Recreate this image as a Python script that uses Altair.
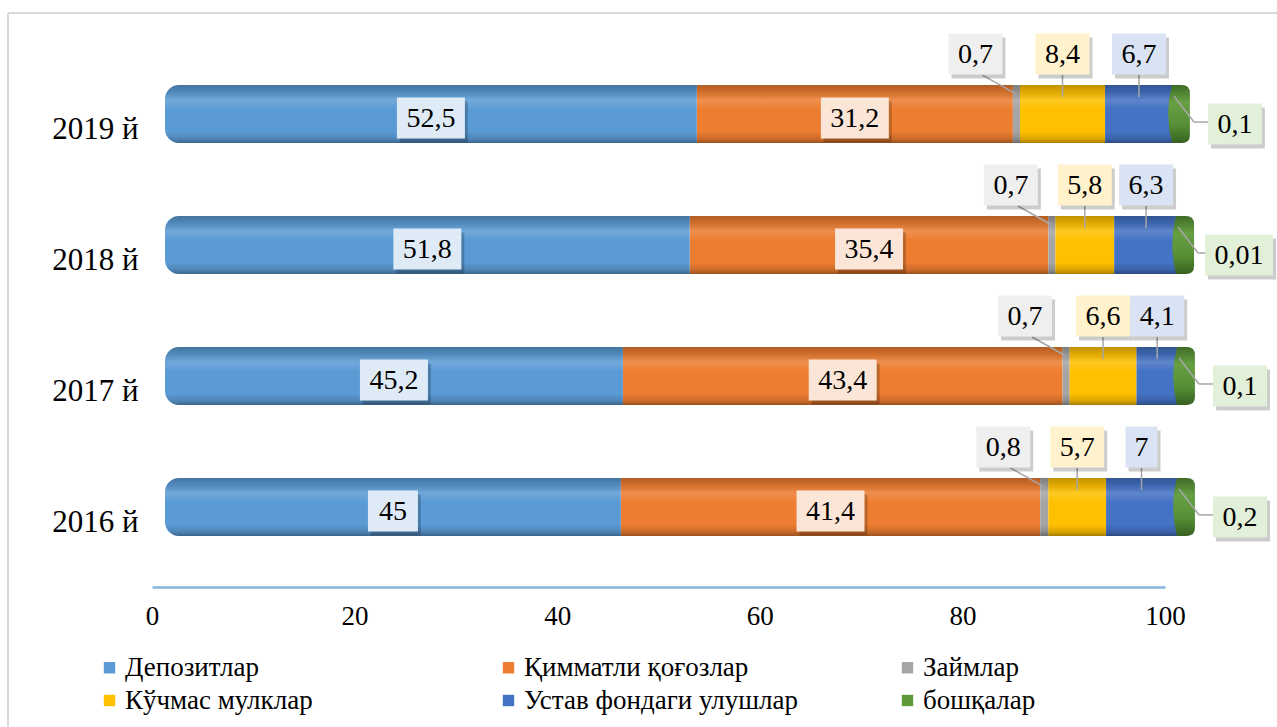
import altair as alt
import pandas as pd

# ---- data ----
years = ["2019 й", "2018 й", "2017 й", "2016 й"]
categories = ["Депозитлар", "Қимматли қоғозлар", "Займлар",
              "Кўчмас мулклар", "Устав фондаги улушлар", "бошқалар"]
deposits = [52.5, 51.8, 45.2, 45]
securities = [31.2, 35.4, 43.4, 41.4]
loans = [0.7, 0.7, 0.7, 0.8]
real_estate = [8.4, 5.8, 6.6, 5.7]
charter = [6.7, 6.3, 4.1, 7]
other = [0.1, 0.01, 0.1, 0.2]
x_ticks = [0, 20, 40, 60, 80, 100]

# ---- styles ----
bar_colors = ["#5B9BD5", "#ED7D31", "#A5A5A5", "#FFC000", "#4472C4", "#5E9A3A"]
box_colors = ["#DEEBF7", "#FBE5D6", "#EFEFEF", "#FFF2CC", "#DAE3F3", "#E2F0D9"]
FONT = "'Liberation Serif', 'Times New Roman', 'DejaVu Serif', serif"
SHIFT = 13          # 3-D depth shift of the bars relative to the axis
W, H = 1013, 553
PAD_L, PAD_T = 152, 34

series = [deposits, securities, loans, real_estate, charter, other]
rows = []
tot_rows = []
for yi, yr in enumerate(years):
    cum = 0.0
    for ci, cat in enumerate(categories):
        v = series[ci][yi]
        lab = f"{v:g}".replace(".", ",")
        rows.append(dict(year=yr, cat=cat, value=v, start=cum, end=cum + v,
                         mid=cum + v / 2, label=lab, nch=str(len(lab))))
        cum += v
    tot_rows.append(dict(year=yr, base=0.0, total=cum))
df = pd.DataFrame(rows)
tot = pd.DataFrame(tot_rows)

xscale = alt.Scale(domain=[0, 100], nice=False, zero=False)
yscale = alt.Scale(domain=years, paddingInner=0.557, paddingOuter=0.39)
xaxis = alt.Axis(values=x_ticks, ticks=False, grid=False, domainColor="#86B3E0",
                 domainWidth=2.5, labelFont=FONT, labelFontSize=27, labelColor="#000",
                 labelPadding=16, labelFlush=False, title=None)
yaxis = alt.Axis(title=None, domain=False, ticks=False, labelFont=FONT,
                 labelFontSize=31, labelColor="#000", labelPadding=14, labelOffset=16)
legend = alt.Legend(orient="none", legendX=-56, legendY=620, columns=3, direction="horizontal",
                    gridAlign="all", columnPadding=96, rowPadding=5, title=None,
                    labelFont=FONT, labelFontSize=27, labelColor="#000", labelLimit=0,
                    labelOffset=2, symbolType="square", symbolSize=130, symbolStrokeWidth=0)
cscale = alt.Scale(domain=categories, range=bar_colors)

X = lambda f: alt.X(f"{f}:Q", scale=xscale, axis=xaxis)
Y = alt.Y("year:N", sort=years, scale=yscale, axis=yaxis)

base = alt.Chart(df)

bars_rest = base.transform_filter(
    alt.FieldOneOfPredicate(field="cat", oneOf=categories[1:])
).mark_bar(xOffset=SHIFT, x2Offset=SHIFT).encode(
    x=X("start"), x2="end:Q", y=Y,
    color=alt.Color("cat:N", scale=cscale, legend=legend, sort=categories))

bars_dep = base.transform_filter(
    alt.FieldEqualPredicate(field="cat", equal=categories[0])
).mark_bar(xOffset=SHIFT, x2Offset=SHIFT, cornerRadiusTopLeft=14,
           cornerRadiusBottomLeft=14).encode(
    x=X("start"), x2="end:Q", y=Y,
    color=alt.Color("cat:N", scale=cscale, legend=legend, sort=categories))

shade = alt.Gradient(gradient="linear", x1=0, x2=0, y1=0, y2=1, stops=[
    alt.GradientStop(offset=0, color="rgba(0,0,0,0.25)"),
    alt.GradientStop(offset=0.12, color="rgba(0,0,0,0.12)"),
    alt.GradientStop(offset=0.26, color="rgba(255,255,255,0.14)"),
    alt.GradientStop(offset=0.42, color="rgba(255,255,255,0)"),
    alt.GradientStop(offset=0.8, color="rgba(0,0,0,0)"),
    alt.GradientStop(offset=0.93, color="rgba(0,0,0,0.15)"),
    alt.GradientStop(offset=1, color="rgba(0,0,0,0.35)"),
])
overlay = alt.Chart(tot).mark_bar(color=shade, xOffset=SHIFT, x2Offset=SHIFT,
                                  cornerRadiusTopLeft=14, cornerRadiusBottomLeft=14).encode(
    x=X("base"), x2="total:Q", y=Y)

CAP = ("M -0.07,-1 L 0.27,-1 Q 0.55,-1 0.55,-0.72 L 0.55,0.72 Q 0.55,1 0.27,1 "
       "L -0.07,1 Q -0.33,0 -0.07,-1 Z")
cap_fill = alt.Gradient(gradient="linear", x1=0, x2=0, y1=0, y2=1, stops=[
    alt.GradientStop(offset=0, color="#3F6B26"),
    alt.GradientStop(offset=0.3, color="#67A043"),
    alt.GradientStop(offset=0.7, color="#558E35"),
    alt.GradientStop(offset=1, color="#37601F"),
])
cap = alt.Chart(tot).mark_point(shape=CAP, size=58 ** 2, filled=True, fill=cap_fill,
                                opacity=1, strokeWidth=0, xOffset=SHIFT).encode(
    x=X("total"), y=Y)

LINE = dict(color="#A6A6A6", strokeWidth=1.5)

def only(cats):
    return base.transform_filter(alt.FieldOneOfPredicate(field="cat", oneOf=cats))

lead_up = only(categories[3:5]).mark_rule(xOffset=SHIFT, x2Offset=SHIFT, yOffset=-39,
                                          y2Offset=-17, **LINE).encode(
    x=X("mid"), x2="mid:Q", y=Y, y2="year:N")
lead_loan = only([categories[2]]).mark_rule(xOffset=SHIFT - 34, x2Offset=SHIFT, yOffset=-39,
                                            y2Offset=-20, **LINE).encode(
    x=X("mid"), x2="mid:Q", y=Y, y2="year:N")
lead_oth_h = only([categories[5]]).mark_rule(xOffset=SHIFT + 34, x2Offset=SHIFT + 20,
                                             yOffset=8, y2Offset=8, **LINE).encode(
    x=X("end"), x2="end:Q", y=Y, y2="year:N")
lead_oth_d = only([categories[5]]).mark_rule(xOffset=SHIFT + 20, x2Offset=SHIFT, yOffset=8,
                                             y2Offset=-18, **LINE).encode(
    x=X("end"), x2="end:Q", y=Y, y2="year:N")

box_w = {"1": 32, "2": 50, "3": 54, "4": 68}
BOX_H = 41
def box_path(w):
    hw = w / 70
    hh = BOX_H / 70
    return f"M {-hw:.3f},{-hh:.3f} L {hw:.3f},{-hh:.3f} L {hw:.3f},{hh:.3f} L {-hw:.3f},{hh:.3f} Z"
shape_scale = alt.Scale(domain=list(box_w), range=[box_path(w) for w in box_w.values()])
fill_scale = alt.Scale(domain=categories, range=box_colors)

def labels(cats, field, dx, dy):
    src = only(cats)
    shadow = src.mark_point(filled=True, opacity=0.2, color="#000", size=4900, strokeWidth=0,
                            xOffset=SHIFT + dx + 3, yOffset=dy + 4).encode(
        x=X(field), y=Y, shape=alt.Shape("nch:N", scale=shape_scale, legend=None))
    box = src.mark_point(filled=True, opacity=1, size=4900, strokeWidth=0,
                         xOffset=SHIFT + dx, yOffset=dy).encode(
        x=X(field), y=Y, shape=alt.Shape("nch:N", scale=shape_scale, legend=None),
        fill=alt.Fill("cat:N", scale=fill_scale, legend=None))
    txt = src.mark_text(font=FONT, fontSize=28, color="#000", baseline="middle",
                        align="center", xOffset=SHIFT + dx, yOffset=dy + 1).encode(
        x=X(field), y=Y, text="label:N")
    return [shadow, box, txt]

label_layers = (labels(categories[0:2], "mid", 0, 4)
                + labels([categories[2]], "mid", -41, -60)
                + labels(categories[3:5], "mid", 0, -60)
                + labels([categories[5]], "end", 61, 10))

# chart-area frame (decoration only, left and top edges visible in the reference)
frame_l = alt.Chart(tot).mark_rule(color="#D9D9D9", strokeWidth=2).encode(
    x=alt.value(8 - PAD_L), y=alt.value(13 - PAD_T), y2=alt.value(727 - PAD_T))
frame_t = alt.Chart(tot).mark_rule(color="#D9D9D9", strokeWidth=2).encode(
    x=alt.value(8 - PAD_L), x2=alt.value(1277 - PAD_L), y=alt.value(13 - PAD_T))

chart = alt.layer(
    frame_l, frame_t,
    bars_rest, bars_dep, overlay, cap, lead_up, lead_loan, lead_oth_h, lead_oth_d,
    *label_layers
).properties(
    width=W, height=H, autosize="none",
    padding={"left": PAD_L, "top": PAD_T, "right": 1277 - PAD_L - W, "bottom": 727 - PAD_T - H},
).configure(background="white", view=alt.ViewConfig(stroke=None))

chart.save("out.html", embed_options={"renderer": "svg", "actions": False})
